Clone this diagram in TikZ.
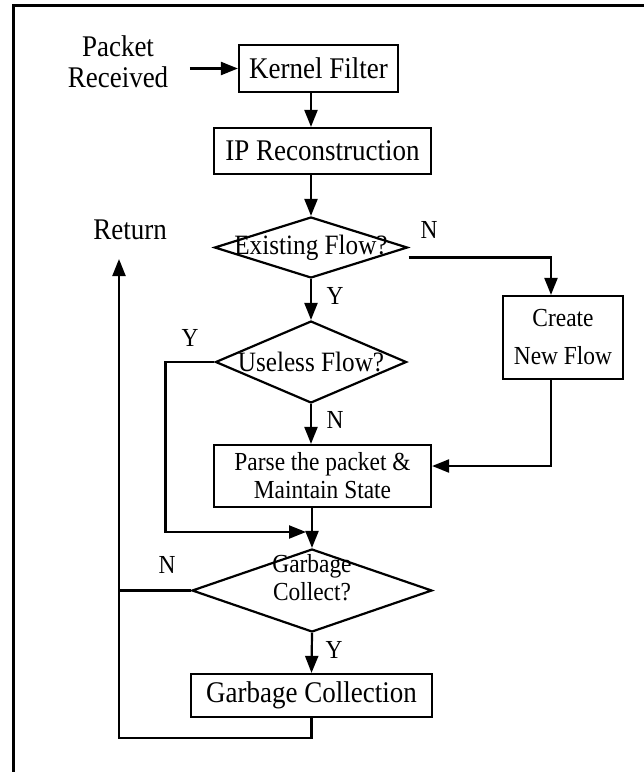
\documentclass[tikz,border=0pt]{standalone}
\usepackage{fontspec}
\setmainfont{Liberation Serif}[FakeStretch=0.9]
\usetikzlibrary{shapes.geometric,arrows.meta}
\begin{document}
\begin{tikzpicture}[x=1pt,y=-1pt,line width=2.2pt,>={Triangle[length=17pt,width=13pt]},
  box/.style={draw,rectangle,inner sep=0pt},
  dec/.style={draw,diamond,inner sep=0pt},
  big/.style={font=\fontsize{30}{31}\selectfont},
  mid/.style={font=\fontsize{28}{31}\selectfont},
  small/.style={font=\fontsize{26}{28}\selectfont},
  lbl/.style={font=\fontsize{26}{30}\selectfont}]
\useasboundingbox (0,0) rectangle (644,772);
\draw[line width=3pt] (13,772) -- (13,5) -- (644,5);
% boxes and decisions
\node[big,align=center] (pkt) at (118,62) {Packet\\Received};
\node[box,big,minimum width=159,minimum height=47] (kf) at (318.5,68.5) {Kernel Filter};
\node[box,big,minimum width=217,minimum height=46] (ipr) at (322.5,151) {IP Reconstruction};
\node[dec,mid,minimum width=193,minimum height=61] (ef) at (311,247.5) {\makebox[0pt]{Existing Flow?}};
\node[dec,mid,minimum width=191,minimum height=82] (uf) at (311,362) {\makebox[0pt]{Useless Flow?}};
\node[box,small,align=center,font=\fontsize{26}{38}\selectfont,minimum width=120,minimum height=83] (cnf) at (563,337.5) {Create\\New Flow};
\node[box,small,align=center,minimum width=217,minimum height=62] (pms) at (322.5,476) {Parse the packet \&\\Maintain State};
\node[dec,small,minimum width=240,minimum height=83] (gcq) at (312,590.5) {\makebox[0pt]{\raisebox{3pt}[0pt][0pt]{\begin{tabular}{@{}c@{}}Garbage\\Collect?\end{tabular}}}};
\node[box,big,minimum width=241,minimum height=43] (gc) at (311.5,695.5) {Garbage Collection};
\node[big] (ret) at (130,230) {Return};
\coordinate (mrg) at (306,532);
\coordinate (rtn) at (119,259);
% branch labels
\node[lbl] (efn) at (429,230) {N};
\node[lbl] (efy) at (335,296) {Y};
\node[lbl] (ufy) at (190,338) {Y};
\node[lbl] (ufn) at (335,420) {N};
\node[lbl] (gcn) at (167,565) {N};
\node[lbl] (gcy) at (334,650) {Y};
% connectors
\draw[->] ([xshift=-48pt]kf.west) -- (kf.west);
\draw[->] (kf.south -| ef) -- (ipr.north -| ef);
\draw[->] (ipr.south -| ef) -- (ef.north);
\draw[->] (ef.south) -- (uf.north);
\draw[->] ([yshift=-10pt]ef.east) -| ([xshift=-12pt]cnf.north);
\draw[->] ([xshift=-12pt]cnf.south) |- ([yshift=10pt]pms.east);
\draw[->] (uf.south) -- (pms.north -| uf);
\draw[->] (uf.west) -- ++(-49,0) |- (mrg);
\draw[->] (pms.south -| gcq) -- (gcq.north);
\draw[->] (gcq.south) -- (gc.north);
\draw (gcq.west) -- (gcq.west -| rtn);
\draw[->] (gc.south) -- ++(0,20) -| (rtn);
\end{tikzpicture}
\end{document}
